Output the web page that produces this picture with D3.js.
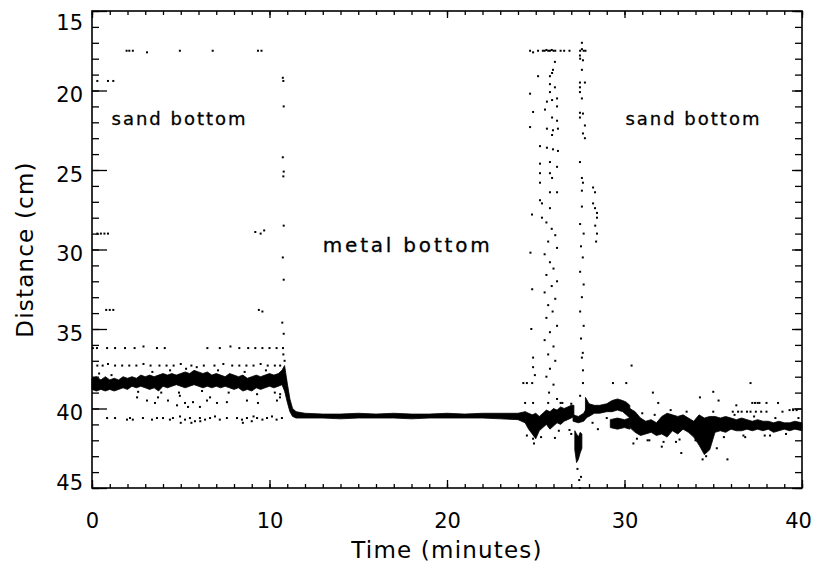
<!DOCTYPE html>
<html>
<head>
<meta charset="utf-8">
<script src="https://cdn.jsdelivr.net/npm/d3@7/dist/d3.min.js"></script>
<style>
  body { margin: 0; background: #fff; }
  text { font-family: "DejaVu Sans", sans-serif; fill: #000; }
</style>
</head>
<body>
<div id="chart"></div>
<script>
/* ── axis values ── */
var xTicks = [0, 10, 20, 30, 40];
var yTicks = [15, 20, 25, 30, 35, 40, 45];
var xDomain = [0, 40];
var yDomain = [15, 45];

/* ── annotations: [time, distance (baseline), text, font size, spacing] ── */
var notes = [
  [1.1, 22.15, 'sand bottom', 18, 2],
  [30.05, 22.15, 'sand bottom', 18, 2],
  [13.0, 30.15, 'metal bottom', 20, 2.8]
];

/* ── dense trace, as envelopes: [time, upper edge, lower edge] (cm) ── */
var traceSand1 = [
  [0.0,38.1,38.8],[0.25,38.0,38.9],[0.5,38.2,38.8],[0.75,38.0,38.9],[1.0,38.2,38.8],
  [1.25,38.1,38.9],[1.5,38.2,38.8],[1.75,38.0,38.7],[2.0,38.1,38.8],[2.25,38.0,38.6],
  [2.5,38.1,38.7],[2.75,37.9,38.6],[3.0,38.0,38.7],[3.25,37.9,38.8],[3.5,38.0,38.7],
  [3.75,37.9,38.9],[4.0,37.8,38.6],[4.25,37.9,38.7],[4.5,37.8,38.6],[4.75,37.9,38.5],
  [5.0,37.8,38.6],[5.25,37.7,38.7],[5.5,37.8,38.6],[5.75,37.6,38.5],[6.0,37.7,38.6],
  [6.25,37.8,38.7],[6.5,37.7,38.6],[6.75,37.9,38.7],[7.0,37.8,38.6],[7.25,37.9,38.7],
  [7.5,38.0,38.6],[7.75,37.8,38.7],[8.0,37.9,38.8],[8.25,38.0,38.7],[8.5,37.9,38.9],
  [8.75,38.1,38.8],[9.0,38.0,38.9],[9.25,37.9,38.7],[9.5,38.0,38.8],[9.75,37.9,38.7],
  [10.0,37.8,38.6],[10.25,37.9,38.7],[10.5,37.8,38.6],[10.7,37.6,38.5],[10.85,37.3,38.9],
  [11.0,38.4,39.6],[11.15,39.4,40.2],[11.3,40.0,40.5],[11.5,40.2,40.6]
];
var traceMetal = [
  [11.5,40.2,40.6],[12,40.3,40.6],[13,40.35,40.6],[14,40.35,40.65],[15,40.3,40.6],
  [16,40.35,40.6],[17,40.3,40.6],[18,40.35,40.65],[19,40.35,40.6],[20,40.3,40.6],
  [21,40.35,40.6],[22,40.3,40.6],[23,40.3,40.65],[24,40.3,40.7],[24.4,40.2,40.9]
];
var traceTransit = [
  [24.4,40.2,40.9],[24.6,40.3,41.3],[24.8,40.4,41.6],[25.0,40.3,41.9],[25.2,40.5,41.4],
  [25.4,40.3,41.2],[25.6,40.1,41.0],[25.8,40.2,41.3],[26.0,40.0,41.1],[26.2,40.1,40.9],
  [26.4,39.9,41.0],[26.6,40.0,40.8],[26.8,39.9,40.7],[27.0,39.8,40.6],[27.15,39.8,40.5]
];
var traceBridge = [
  [27.1,40.4,40.8],[27.4,40.5,40.9],[27.7,40.3,40.8],[27.85,40.0,40.6]
];
var traceDip = [
  [27.2,41.4,42.6],[27.3,41.6,43.4],[27.4,41.8,43.2],[27.5,41.5,42.8],[27.6,41.6,42.5]
];
var traceSand2a = [
  [27.8,39.3,40.6],[28.0,39.7,40.5],[28.3,39.8,40.3],[28.6,39.8,40.3],[29.0,39.7,40.2],
  [29.3,39.5,40.2],[29.6,39.4,40.1],[29.9,39.5,40.2],[30.1,39.6,40.4],[30.3,39.8,40.6]
];
var traceSand2b = [
  [29.2,40.7,41.2],[29.6,40.6,41.3],[30.0,40.7,41.2],[30.3,40.6,41.3]
];
var traceSand2c = [
  [30.3,40.0,41.2],[30.6,40.2,41.5],[30.9,40.6,41.7],[31.2,40.8,41.6],[31.5,40.7,41.5],
  [31.8,40.9,41.7],[32.1,40.5,41.6],[32.4,40.3,41.8],[32.7,40.4,41.4],[33.0,40.5,41.6],
  [33.3,40.4,41.3],[33.6,40.6,41.5],[33.9,40.8,41.8],[34.2,40.4,42.3],[34.5,40.6,42.9],
  [34.8,40.5,42.6],[35.1,40.5,41.5],[35.4,40.6,41.4],[35.7,40.5,41.5],[36.0,40.6,41.3],
  [36.3,40.7,41.4],[36.6,40.6,41.4],[36.9,40.7,41.3],[37.2,40.8,41.4],[37.5,40.7,41.3],
  [37.8,40.8,41.4],[38.1,40.8,41.3],[38.4,40.9,41.5],[38.7,40.8,41.4],[39.0,40.9,41.3],
  [39.3,40.9,41.4],[39.6,40.8,41.3],[40.0,40.9,41.4]
];

/* ── sparse echoes: [time, distance] ── */
var dotsSand1 = [
  [1.95,17.5],[2.1,17.5],[2.3,17.5],[3.1,17.6],[4.95,17.5],[6.8,17.5],[9.35,17.5],[9.55,17.5],
  [0.3,19.4],[0.9,19.4],[1.2,19.4],
  [10.75,19.2],[10.78,19.4],[10.8,21.0],[10.75,24.2],[10.8,25.1],[10.78,25.4],[10.8,28.5],
  [10.75,30.5],[10.8,31.9],[10.72,34.6],[10.8,35.3],[10.78,36.6],
  [0.3,29.0],[0.5,29.0],[0.7,29.0],[0.9,29.0],[9.2,28.9],[9.5,29.0],[9.7,28.8],
  [0.8,33.8],[1.0,33.8],[1.2,33.8],[9.4,33.8],[9.6,33.9],
  [0.05,36.2],[0.28,36.2],[0.85,36.2],[1.3,36.2],[1.86,36.2],[2.4,36.2],[2.9,36.1],[3.66,36.2],
  [4.1,36.2],[6.5,36.2],[7.2,36.2],[7.8,36.1],[8.3,36.2],[8.8,36.2],[9.2,36.2],[9.6,36.2],
  [10.0,36.2],[10.4,36.2],[10.76,36.2],
  [0.3,37.3],[0.6,37.3],[0.9,37.2],[1.3,37.3],[1.7,37.3],[2.1,37.3],[2.5,37.3],[2.9,37.2],
  [3.3,37.3],[3.8,37.3],[4.2,37.3],[4.6,37.3],[5.0,37.2],[5.6,37.3],[6.3,37.3],[6.9,37.3],
  [7.4,37.2],[7.9,37.3],[8.3,37.3],[8.7,37.3],[9.1,37.3],[9.5,37.2],[9.9,37.3],[10.3,37.3],
  [10.6,37.3],[10.85,37.0],
  [2.54,39.3],[3.1,39.5],[3.55,39.65],[3.72,39.3],[4.28,39.5],[4.79,39.8],[5.24,39.65],
  [5.41,39.9],[5.69,39.6],[6.08,39.9],[6.48,39.5],[6.65,39.3],[7.04,39.65],[7.6,39.6],
  [8.73,39.5],[9.35,39.65],[10.42,39.5],[10.59,39.3],[4.9,39.0],[4.95,39.2],[10.6,39.1],
  [0.85,40.6],[1.3,40.6],[1.97,40.7],[2.14,40.6],[2.3,40.7],[2.87,40.6],[3.38,40.7],
  [3.66,40.6],[4.0,40.6],[4.39,40.7],[4.56,40.6],[4.96,40.5],[5.24,40.7],[5.52,40.6],
  [5.8,40.8],[6.08,40.6],[6.37,40.7],[6.65,40.6],[6.93,40.5],[7.2,40.7],[7.6,40.6],
  [8.17,40.6],[8.45,40.7],[8.73,40.6],[9.0,40.8],[9.3,40.6],[9.6,40.7],[9.86,40.6],
  [10.14,40.5],[10.4,40.7],[10.7,40.6],[5.0,40.9],[5.6,40.9],[6.1,40.8],[8.5,40.9],[9.1,40.5],
  /* ragged band edges */
  [0.4,37.8],[1.1,37.9],[2.6,38.95],[3.4,37.7],[3.9,39.0],[4.4,37.6],[5.3,37.5],[5.9,37.4],
  [6.2,38.9],[7.1,37.6],[7.7,39.0],[8.6,37.7],[9.3,39.1],[9.8,37.6],[10.3,39.0],[10.9,38.2]
];
var dotsSand2 = [
  /* top row */
  [24.68,17.5],[24.85,17.6],[25.13,17.5],[25.4,17.5],[25.5,17.5],[25.6,17.45],[25.7,17.5],
  [25.8,17.5],[25.9,17.45],[26.0,17.5],[26.1,17.5],[26.4,17.5],[26.6,17.5],[26.9,17.5],
  [27.5,17.5],[27.6,17.4],[27.7,17.5],[27.8,17.5],[27.6,17.0],
  /* first column */
  [26.08,18.2],[25.97,18.7],[25.92,18.9],[25.8,19.1],[25.13,19.1],[25.8,19.6],[26.08,19.8],
  [25.8,20.1],[26.2,20.5],[25.92,20.6],[25.63,20.7],[26.2,21.0],[24.68,20.2],[24.85,21.35],
  [25.52,21.2],[25.92,21.7],[26.2,21.9],[24.68,22.3],[25.63,22.4],[25.97,22.5],[26.25,22.4],
  [25.92,22.8],[25.24,23.5],[25.63,23.6],[25.97,23.7],[26.25,23.8],[25.8,24.5],[25.24,24.6],
  [26.2,24.8],[25.8,25.2],[25.24,25.2],[25.92,25.5],[25.24,25.8],[25.8,26.4],[26.2,26.4],
  [25.24,26.9],[25.35,27.1],[25.8,27.4],[24.79,27.8],[25.35,28.0],
  [25.6,28.3],[25.9,28.7],[26.1,29.1],[25.7,29.5],[26.2,29.9],[25.5,30.3],[25.8,30.8],
  [26.0,31.2],[25.6,31.6],[26.2,32.0],[25.9,32.3],[25.5,32.7],[26.1,33.1],[25.7,33.5],
  [25.95,33.9],[25.6,34.3],[26.2,34.8],[25.8,35.2],[25.5,35.7],[26.0,36.1],[25.7,36.6],
  [26.1,37.0],[25.8,37.5],[25.6,38.0],[26.0,38.5],[25.75,39.0],[26.2,39.4],
  /* second column */
  [27.49,17.8],[27.5,18.0],[27.66,18.1],[27.6,18.7],[27.49,19.5],[27.77,19.5],[27.49,19.8],
  [27.49,20.1],[27.6,20.5],[27.49,21.4],[27.66,21.45],[27.49,21.7],[27.77,22.2],[27.66,22.7],
  [27.77,23.0],[27.49,24.5],[27.6,25.5],[27.66,25.8],[27.6,26.3],[27.6,27.3],
  [27.5,28.4],[27.7,29.0],[27.55,29.8],[27.65,30.5],[27.5,31.4],[27.7,32.2],[27.6,33.0],
  [27.5,33.9],[27.7,34.8],[27.55,35.6],[27.65,36.5],[27.6,36.8],[27.66,37.6],[27.66,38.4],
  [27.5,39.2],
  /* third column */
  [28.23,26.1],[28.34,26.4],[28.23,27.1],[28.34,27.4],[28.45,27.7],[28.45,28.0],
  [28.35,28.5],[28.45,29.0],[28.4,29.5],
  /* loose echoes near the transition */
  [24.7,30.2],[24.8,32.5],[24.75,35.0],[24.85,36.8],[24.85,37.4],[24.95,37.9],
  [24.3,38.4],[24.5,38.4],[24.8,38.4],[24.4,39.65],[24.85,39.65],[25.7,39.65],
  [26.4,39.65],[26.5,39.65],[27.0,39.7],
  [24.85,41.9],[26.08,41.85],[26.9,41.35],[27.0,41.6],[27.45,44.5],[27.55,44.3],
  [27.5,45.0],[27.35,43.8],
  /* around the second sand stretch */
  [29.35,38.4],[30.1,38.4],[30.4,37.3],[31.6,39.0],[31.9,39.65],[34.25,39.3],[35.0,38.95],
  [35.3,39.5],[36.3,39.8],[37.1,38.4],[37.2,39.65],[37.35,39.65],[37.5,39.65],[37.6,39.65],
  [38.0,39.65],[38.65,39.65],[38.9,40.2],[39.3,40.1],[39.5,40.1],[39.7,40.1],
  [36.1,40.2],[36.4,40.2],[36.6,40.2],[36.9,40.2],[37.1,40.2],[37.4,40.2],[37.7,40.2],
  [38.0,40.2],
  [30.5,42.2],[32.1,42.4],[33.2,42.8],[35.2,42.5],[35.8,43.2],[34.4,43.2],[34.6,43.0],
  [31.3,42.0],[32.9,42.1],[36.8,41.8],[38.2,41.7],
  /* ragged band edges */
  [30.7,41.9],[31.0,40.3],[31.4,42.0],[31.7,40.4],[32.2,42.1],[32.6,40.1],[33.1,41.95],
  [33.5,40.2],[34.0,42.0],[35.0,40.2],[35.6,41.8],[36.2,40.4],[36.7,41.7],[37.3,40.5],
  [37.9,41.7],[38.5,40.6],[39.1,41.6],[39.8,40.6],[28.2,40.9],[28.5,41.3],[29.0,40.6],
  [24.5,41.7],[24.9,42.2],[25.3,41.8],[26.3,41.4]
];

/* ── layout ── */
var W = 817, H = 566;
var m = { left: 92, right: 15, top: 11, bottom: 78 };
var pw = W - m.left - m.right, ph = H - m.top - m.bottom;

var svg = d3.select('#chart').append('svg')
  .attr('width', W).attr('height', H);
var g = svg.append('g').attr('transform', 'translate(' + m.left + ',' + m.top + ')');

var x = d3.scaleLinear().domain(xDomain).range([0, pw]);
var y = d3.scaleLinear().domain(yDomain).range([0, ph]);

/* ── traces ── */
var area = d3.area()
  .x(function (d) { return x(d[0]); })
  .y0(function (d) { return y(d[1]); })
  .y1(function (d) { return y(d[2]); });

[traceSand1, traceMetal, traceTransit, traceBridge, traceDip, traceSand2a, traceSand2b, traceSand2c]
  .forEach(function (tr) {
    g.append('path').datum(tr)
      .attr('d', area)
      .attr('fill', '#000').attr('stroke', '#000').attr('stroke-width', 0.8);
  });

g.selectAll('rect.dot')
  .data(dotsSand1.concat(dotsSand2))
  .enter().append('rect').attr('class', 'dot')
  .attr('x', function (d) { return x(d[0]) - 1; })
  .attr('y', function (d) { return y(d[1]) - 1; })
  .attr('width', 2).attr('height', 2)
  .attr('fill', '#000');

/* ── axes ── */
function styleAxis(sel) {
  sel.select('.domain').remove();
  sel.selectAll('line').attr('stroke', '#000').attr('stroke-width', 1.3);
}

var minorX = d3.range(xDomain[0], xDomain[1] + 1, 1);
var minorY = d3.range(yDomain[0], yDomain[1] + 1, 1);

/* bottom */
g.append('g').attr('transform', 'translate(0,' + ph + ')')
  .call(d3.axisBottom(x).tickValues(minorX).tickSize(-4).tickFormat(''))
  .call(styleAxis);
var xb = g.append('g').attr('transform', 'translate(0,' + ph + ')')
  .call(d3.axisBottom(x).tickValues(xTicks).tickSize(-8).tickPadding(25).tickFormat(d3.format('d')))
  .call(styleAxis);
xb.selectAll('text').attr('font-size', 21)
  .attr('dx', function (d) { return d === xDomain[1] ? -4 : 0; });

/* top */
g.append('g')
  .call(d3.axisTop(x).tickValues(minorX).tickSize(-4).tickFormat(''))
  .call(styleAxis);
g.append('g')
  .call(d3.axisTop(x).tickValues(xTicks).tickSize(-7).tickFormat(''))
  .call(styleAxis);

/* left */
g.append('g')
  .call(d3.axisLeft(y).tickValues(minorY).tickSize(-7).tickFormat(''))
  .call(styleAxis);
var yl = g.append('g')
  .call(d3.axisLeft(y).tickValues(yTicks).tickSize(-15).tickPadding(9).tickFormat(d3.format('d')))
  .call(styleAxis);
yl.selectAll('text').attr('font-size', 21)
  .attr('dy', function (d) {
    if (d === yDomain[0]) return 18;
    if (d === yDomain[1]) return 1;
    return 11;
  });

/* right */
g.append('g').attr('transform', 'translate(' + pw + ',0)')
  .call(d3.axisRight(y).tickValues(minorY).tickSize(-7).tickFormat(''))
  .call(styleAxis);
g.append('g').attr('transform', 'translate(' + pw + ',0)')
  .call(d3.axisRight(y).tickValues(yTicks).tickSize(-10).tickFormat(''))
  .call(styleAxis);

/* frame */
g.append('rect')
  .attr('width', pw).attr('height', ph)
  .attr('fill', 'none').attr('stroke', '#000').attr('stroke-width', 1.6);

/* ── titles ── */
svg.append('text')
  .attr('x', m.left + pw / 2).attr('y', 558)
  .attr('text-anchor', 'middle').attr('font-size', 23)
  .attr('letter-spacing', 1.2)
  .text('Time (minutes)');

svg.append('text')
  .attr('transform', 'translate(33,' + (m.top + ph / 2) + ') rotate(-90)')
  .attr('text-anchor', 'middle').attr('font-size', 23)
  .attr('letter-spacing', 1.2)
  .text('Distance (cm)');

/* ── annotations ── */
g.selectAll('text.note')
  .data(notes)
  .enter().append('text').attr('class', 'note')
  .attr('x', function (d) { return x(d[0]); })
  .attr('y', function (d) { return y(d[1]); })
  .attr('font-size', function (d) { return d[3]; })
  .attr('letter-spacing', function (d) { return d[4]; })
  .attr('stroke', '#000').attr('stroke-width', 0.3)
  .text(function (d) { return d[2]; });
</script>
</body>
</html>
